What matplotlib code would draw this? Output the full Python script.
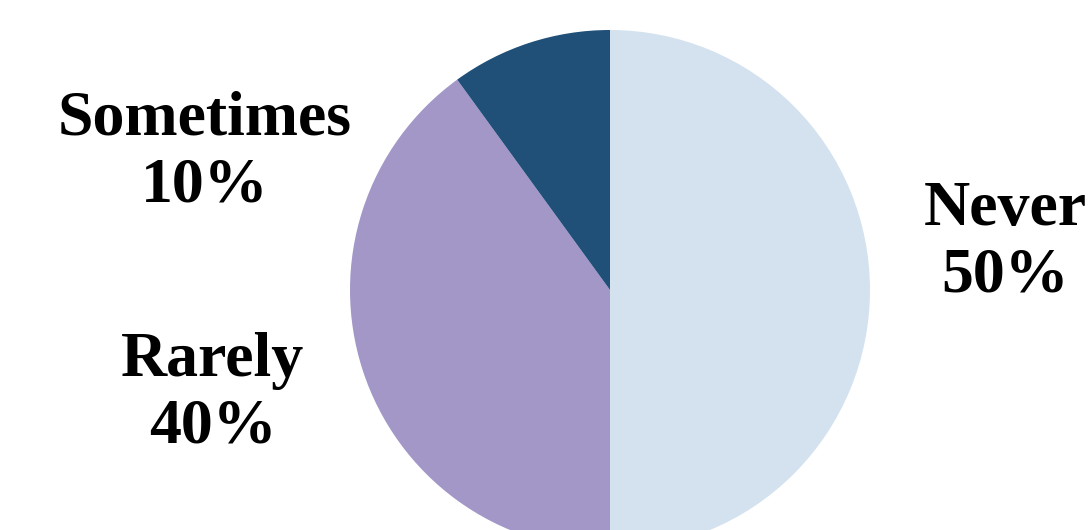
import matplotlib.pyplot as plt

labels = ['Never', 'Rarely', 'Sometimes']
shares = [50, 40, 10]
colors = ['#D3E2EE', '#A397C8', '#204F78']
# label centre positions in pixels from the top-left corner
label_pos = [(1005, 243), (213, 394), (205, 153)]

W, H = 1090, 530
fig = plt.figure(figsize=(W / 100, H / 100), dpi=100)

# pie centre at (610, 290) px, radius 260 px
cx, cy, r = 610, 290, 260
ax = fig.add_axes([(cx - r) / W, (H - cy - r) / H, 2 * r / W, 2 * r / H])
ax.pie(shares, colors=colors, startangle=90, counterclock=False,
       wedgeprops=dict(linewidth=0))
ax.set_xlim(-1, 1)
ax.set_ylim(-1, 1)
ax.set_aspect('equal')
ax.axis('off')

for lab, val, (x, y) in zip(labels, shares, label_pos):
    fig.text(x / W, 1 - y / H, f'{lab}\n{val}%', ha='center', va='center',
             fontsize=46, fontweight='bold', family='Liberation Serif',
             linespacing=1.2)

fig.savefig('out.png', dpi=100)
